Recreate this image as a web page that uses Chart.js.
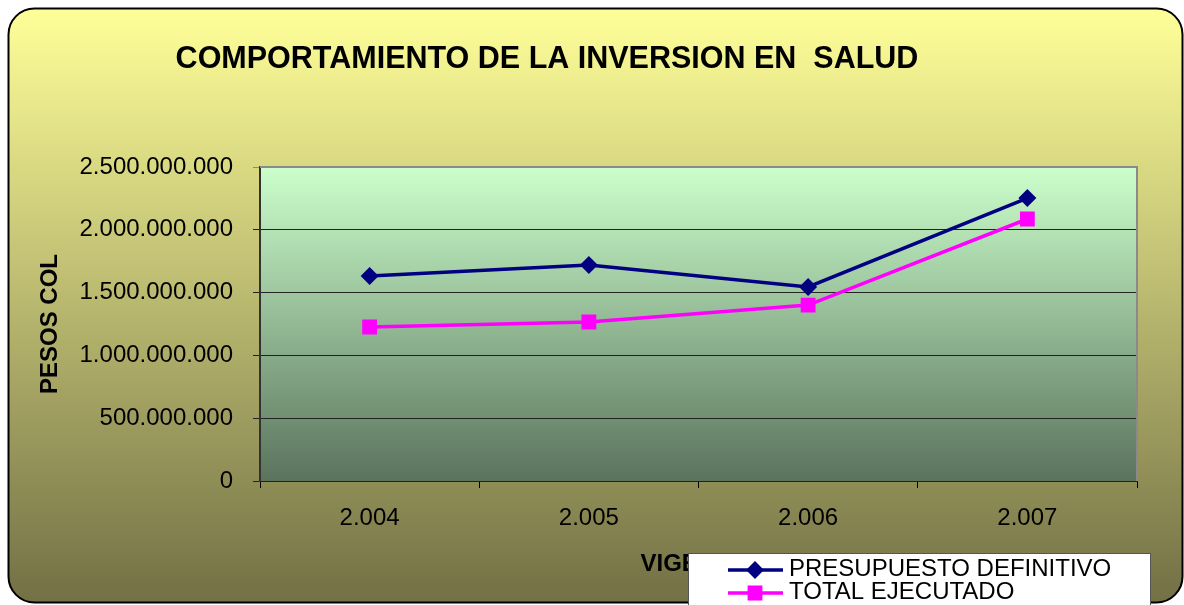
<!DOCTYPE html>
<html>
<head>
<meta charset="utf-8">
<script src="https://cdn.jsdelivr.net/npm/chart.js@4.4.1/dist/chart.umd.min.js"></script>
<style>
  html, body { margin: 0; padding: 0; background: #fff; }
  #wrap { width: 1184px; height: 605px; }
</style>
</head>
<body>
<div id="wrap"><canvas id="chart" width="1184" height="605"></canvas></div>
<script>
  // values
  const years = ['2.004', '2.005', '2.006', '2.007'];
  const presupuestoDefinitivo = [1632000000, 1720000000, 1545000000, 2253000000];
  const totalEjecutado = [1226000000, 1266000000, 1401000000, 2086000000];
  const yMax = 2500000000;
  const yStep = 500000000;

  const TITLE = 'COMPORTAMIENTO DE LA INVERSION EN  SALUD';
  const FONT = 'Arial, "Liberation Sans", sans-serif';

  function dots(v){
    return String(v).replace(/\B(?=(\d{3})+(?!\d))/g, '.');
  }

  function roundRect(ctx, x, y, w, h, r){
    ctx.beginPath();
    ctx.moveTo(x + r, y);
    ctx.lineTo(x + w - r, y);
    ctx.arcTo(x + w, y, x + w, y + r, r);
    ctx.lineTo(x + w, y + h - r);
    ctx.arcTo(x + w, y + h, x + w - r, y + h, r);
    ctx.lineTo(x + r, y + h);
    ctx.arcTo(x, y + h, x, y + h - r, r);
    ctx.lineTo(x, y + r);
    ctx.arcTo(x, y, x + r, y, r);
    ctx.closePath();
  }

  // frame, plot fill, title and the legend box over the x title
  const backdrop = {
    id: 'backdrop',
    beforeDraw(chart){
      const { ctx, chartArea: a } = chart;
      ctx.save();
      ctx.fillStyle = '#fff';
      ctx.fillRect(0, 0, chart.width, chart.height);

      const g = ctx.createLinearGradient(0, 8, 0, 603);
      g.addColorStop(0, '#FFFF99');
      g.addColorStop(1, '#727045');
      roundRect(ctx, 8.5, 8.5, 1174, 594, 26);
      ctx.fillStyle = g;
      ctx.fill();
      ctx.lineWidth = 2;
      ctx.strokeStyle = '#000';
      ctx.stroke();

      const pg = ctx.createLinearGradient(0, a.top, 0, a.bottom);
      pg.addColorStop(0, '#CCFFCC');
      pg.addColorStop(1, '#5A735D');
      ctx.fillStyle = pg;
      ctx.fillRect(a.left, a.top, a.right - a.left, a.bottom - a.top);

      ctx.fillStyle = '#000';
      ctx.font = 'bold 30.5px ' + FONT;
      ctx.textAlign = 'center';
      ctx.textBaseline = 'middle';
      ctx.fillText(TITLE, 547, 60);
      ctx.restore();
    },
    beforeDatasetsDraw(chart){
      const { ctx, chartArea: a } = chart;
      ctx.save();
      ctx.strokeStyle = '#8a8a8a';
      ctx.lineWidth = 2;
      ctx.beginPath();
      ctx.moveTo(a.left, a.top);
      ctx.lineTo(a.right, a.top);
      ctx.lineTo(a.right, a.bottom);
      ctx.stroke();
      ctx.restore();
    },
    afterDraw(chart){
      const ctx = chart.ctx;
      ctx.save();
      ctx.fillStyle = '#fff';
      ctx.strokeStyle = '#555';
      ctx.lineWidth = 1;
      ctx.fillRect(688, 553, 462, 60);
      ctx.strokeRect(688.5, 553.5, 462, 60);
      ctx.font = '24px ' + FONT;
      ctx.textAlign = 'left';
      ctx.textBaseline = 'middle';
      const rowY = [570, 593];
      chart.data.datasets.forEach((ds, i) => {
        const y = rowY[i];
        ctx.strokeStyle = ds.borderColor;
        ctx.lineWidth = ds.borderWidth;
        ctx.beginPath();
        ctx.moveTo(728, y);
        ctx.lineTo(783, y);
        ctx.stroke();
        Chart.helpers.drawPoint(ctx, {
          pointStyle: ds.pointStyle, radius: ds.pointRadius, rotation: 0, borderWidth: 1
        }, 755, y);
        ctx.fillStyle = ds.pointBackgroundColor;
        ctx.fill();
        ctx.fillStyle = '#000';
        ctx.fillText(ds.label, 789, y - 1);
      });
      ctx.restore();
    }
  };

  new Chart(document.getElementById('chart'), {
    type: 'line',
    data: {
      labels: years,
      datasets: [
        {
          label: 'PRESUPUESTO DEFINITIVO',
          data: presupuestoDefinitivo,
          borderColor: '#000080',
          backgroundColor: '#000080',
          pointBackgroundColor: '#000080',
          pointBorderColor: '#000080',
          borderWidth: 3.5,
          pointStyle: 'rectRot',
          pointRadius: 6.5,
          tension: 0
        },
        {
          label: 'TOTAL EJECUTADO',
          data: totalEjecutado,
          borderColor: '#FF00FF',
          backgroundColor: '#FF00FF',
          pointBackgroundColor: '#FF00FF',
          pointBorderColor: '#FF00FF',
          borderWidth: 3.5,
          pointStyle: 'rect',
          pointRadius: 8,
          tension: 0
        }
      ]
    },
    options: {
      responsive: false,
      devicePixelRatio: 1,
      animation: false,
      layout: { padding: { top: 167, right: 47, left: 0, bottom: 0 } },
      plugins: {
        legend: { display: false },
        title: { display: false },
        tooltip: { enabled: false }
      },
      scales: {
        x: {
          type: 'category',
          offset: true,
          grid: { display: true, offset: true, drawOnChartArea: false, drawTicks: true, tickLength: 7, color: '#000' },
          border: { display: true, color: '#222', width: 1 },
          ticks: { color: '#000', font: { family: FONT, size: 24 }, padding: 16, maxRotation: 0 },
          title: { display: true, text: 'VIGENCIA', color: '#000', font: { family: FONT, size: 24, weight: 'bold' }, padding: { top: 0, bottom: 26 } },
          afterFit(s){ s.height = 124; }
        },
        y: {
          min: 0,
          max: yMax,
          grid: {
            color: c => (c.tick && c.tick.value === yMax) ? '#8a8a8a' : '#222',
            lineWidth: 1,
            tickLength: 7,
            drawTicks: true
          },
          border: { display: true, color: '#333', width: 2 },
          ticks: { stepSize: yStep, color: '#000', font: { family: FONT, size: 24 }, padding: 20, callback: v => dots(v) },
          title: { display: true, text: 'PESOS COL', color: '#000', font: { family: FONT, size: 24, weight: 'bold' }, padding: { top: 36, bottom: 0 } },
          afterFit(s){ s.width = 260; }
        }
      }
    },
    plugins: [backdrop]
  });
</script>
</body>
</html>
